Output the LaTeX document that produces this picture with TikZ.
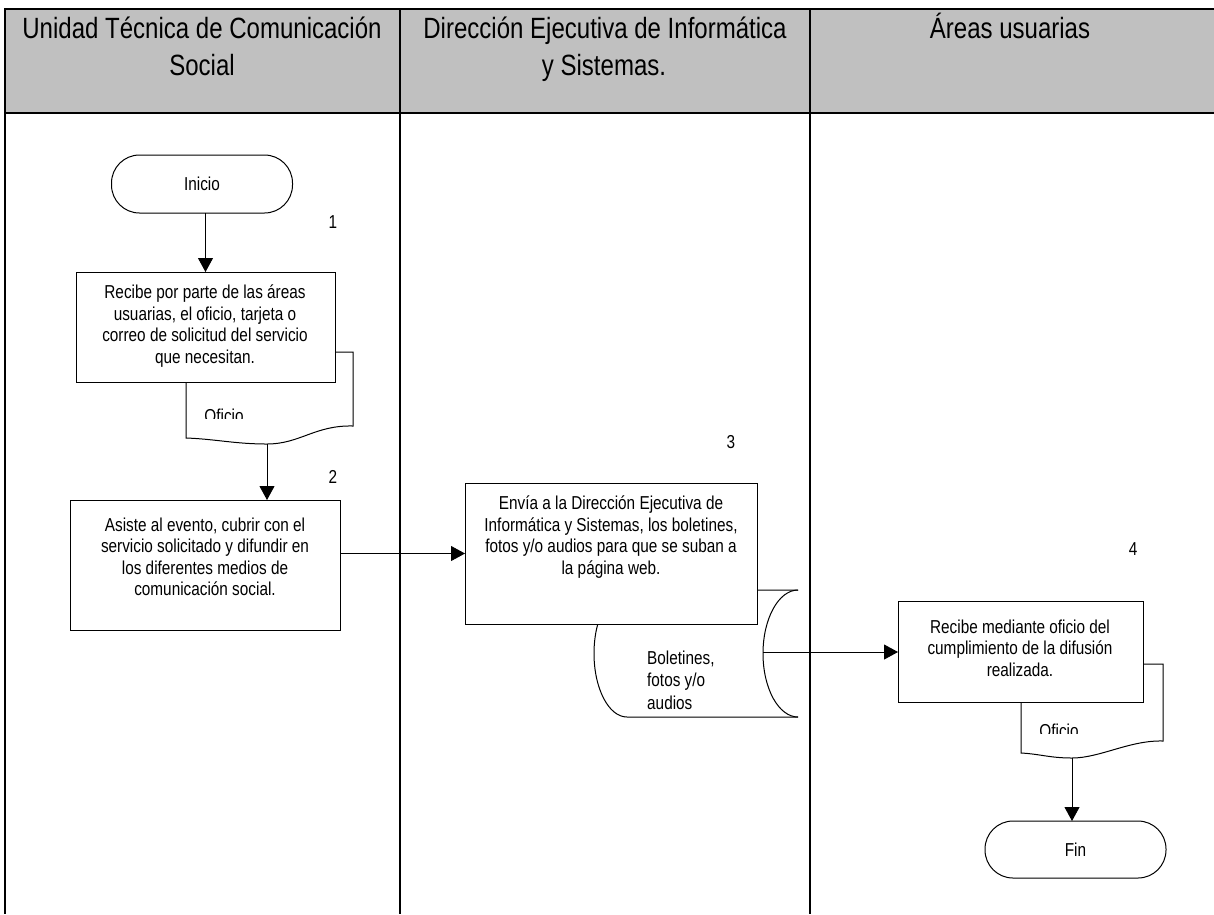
\documentclass[tikz,border=0pt]{standalone}
\usepackage{fontspec}
\setmainfont[FakeStretch=0.82]{Liberation Sans}
\usetikzlibrary{arrows.meta}
\definecolor{hdrgray}{HTML}{C0C0C0}
\newcommand{\boxfont}{\fontsize{18.7}{21.5}\selectfont}
\newcommand{\headfont}{\fontsize{29.3}{37}\selectfont}
\begin{document}
\begin{tikzpicture}[x=1pt,y=-1pt,
  lane/.style={line width=2.5pt},
  shp/.style={draw, line width=1pt, fill=white, inner sep=0pt, outer sep=0pt},
  box/.style={shp, rectangle},
  term/.style={shp, rectangle, rounded corners=28pt, font=\boxfont},
  doc/.style={draw, line width=1pt, fill=white},
  arr/.style={line width=0.9pt, -{Triangle[length=14pt,width=15pt]}},
  txt/.style={align=center, font=\boxfont, inner sep=0pt},
  num/.style={font=\boxfont, inner sep=0pt},
  hdr/.style={font=\headfont, inner sep=0pt, anchor=base}]
\useasboundingbox (0,0) rectangle (1214,914);
% header
\fill[hdrgray] (5,9) rectangle (1214,113);
\draw[lane] (4,9) -- (1214,9);
\draw[lane] (4,113) -- (1214,113);
\draw[lane] (5,8) -- (5,914);
\draw[lane] (400,8) -- (400,914);
\draw[lane] (810,8) -- (810,914);
\node[hdr] (h1a) at (202,38) {Unidad Técnica de Comunicación};
\node[hdr] (h1b) at (202,75) {Social};
\node[hdr] (h2a) at (605,38) {Dirección Ejecutiva de Informática};
\node[hdr] (h2b) at (604,75) {y Sistemas.};
\node[hdr] (h3) at (1010,38) {Áreas usuarias};

% lane 1
\node[term, minimum width=181pt, minimum height=58pt] (ini) at (202,184) {Inicio};
\node[num] (n1) at (333,222) {1};
\draw[doc] (186,352) -- (353,352) -- (353,426) .. controls (315,425) and (300,444) .. (267,444) .. controls (235,444) and (215,439) .. (186,438) -- cycle;
\coordinate (d1b) at (267,444);
\begin{scope}
\clip (180,395) rectangle (360,418);
\node[num, anchor=base] (o1) at (224,422) {Oficio};
\end{scope}
\node[box, minimum width=259pt, minimum height=110pt] (b1) at (205.5,327) {};
\node[txt] (t1) at (205,326) {Recibe por parte de las áreas\\usuarias, el oficio, tarjeta o\\correo de solicitud del servicio\\que necesitan.};
\node[num] (n2) at (333,477) {2};
\node[box, minimum width=270pt, minimum height=130pt] (b2) at (205,565) {};
\node[txt] (t2) at (205,557) {Asiste al evento, cubrir con el\\servicio solicitado y difundir en\\los diferentes medios de\\comunicación social.};

% lane 2
\node[num] (n3) at (731,442) {3};
\draw[doc] (798,590) -- (627,590) arc[start angle=90, end angle=270, x radius=33pt, y radius=63.5pt] -- (798,717);
\draw[line width=1pt] (798,590) arc[start angle=90, end angle=270, x radius=35pt, y radius=63.5pt];
\coordinate (dr) at (763,652);
\node[txt, align=left, anchor=west] (t5) at (647,680) {Boletines,\\[1pt]fotos y/o\\[1pt]audios};
\node[box, minimum width=292pt, minimum height=141pt] (b3) at (611,553.5) {};
\node[txt] (t3) at (611,537) {Envía a la Dirección Ejecutiva de\\Informática y Sistemas, los boletines,\\fotos y/o audios para que se suban a\\la página web.};

% lane 3
\node[num] (n4) at (1133,549) {4};
\draw[doc] (1021,664) -- (1163,664) -- (1163,741) .. controls (1130,740) and (1100,758) .. (1072,758) .. controls (1050,758) and (1040,754) .. (1021,753) -- cycle;
\coordinate (d2b) at (1072,758);
\begin{scope}
\clip (1015,710) rectangle (1170,733);
\node[num, anchor=base] (o2) at (1059,737) {Oficio};
\end{scope}
\node[box, minimum width=245pt, minimum height=101pt] (b4) at (1020.5,651.5) {};
\node[txt] (t4) at (1020,648) {Recibe mediante oficio del\\cumplimiento de la difusión\\realizada.};
\node[term, minimum width=181pt, minimum height=57pt] (fin) at (1075.5,849.5) {Fin};

% connectors
\draw[arr] (ini.south -| b1.north) -- (b1.north);
\draw[arr] (d1b) -- (d1b |- b2.north);
\draw[arr] (b2.east |- b3.west) -- (b3.west);
\draw[arr] (dr) -- (dr -| b4.west);
\draw[arr] (d2b) -- (d2b |- fin.north);
\end{tikzpicture}
\end{document}
